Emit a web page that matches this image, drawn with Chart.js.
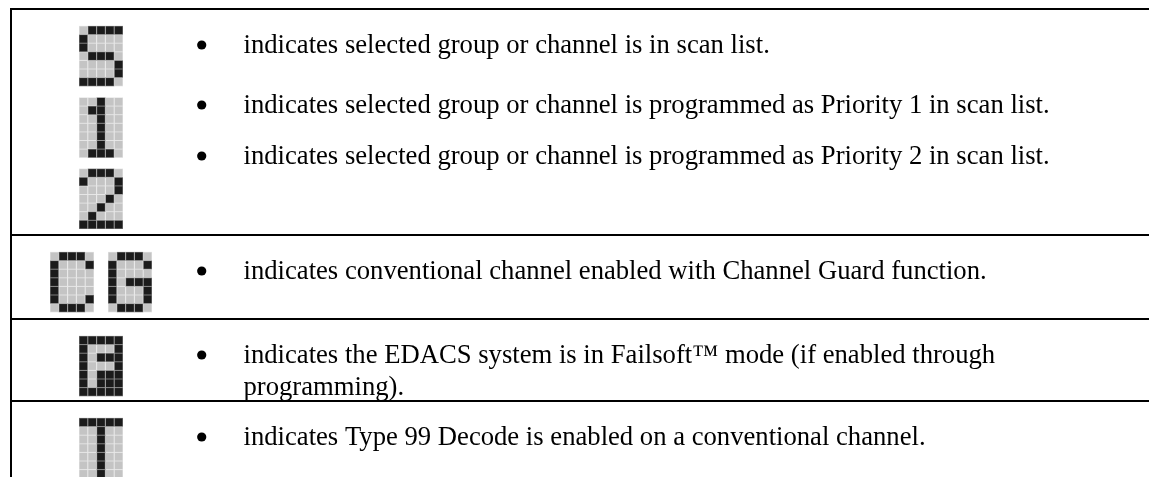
<!DOCTYPE html>
<html>
<head>
<meta charset="utf-8">
<style>
html, body { margin: 0; padding: 0; background: #fff; overflow: hidden; }
canvas { display: block; }
</style>
<script src="https://cdn.jsdelivr.net/npm/chart.js@4"></script>
</head>
<body>
<canvas id="legendChart" width="1149" height="477"></canvas>
<script>
// LCD icons, 5x7 cells
const glyphS = ['.####', '#....', '#....', '.###.', '....#', '....#', '####.'];
const glyphOne = ['..#..', '.##..', '..#..', '..#..', '..#..', '..#..', '.###.'];
const glyphTwo = ['.###.', '#...#', '....#', '...#.', '..#..', '.#...', '#####'];
const glyphC = ['.###.', '#...#', '#....', '#....', '#....', '#...#', '.###.'];
const glyphG = ['.###.', '#...#', '#....', '#.###', '#...#', '#...#', '.###.'];
const glyphFail = ['#####', '#...#', '#.###', '#...#', '#.###', '#.###', '#####'];
const glyphT = ['#####', '..#..', '..#..', '..#..', '..#..', '..#..', '..#..'];

const glyphs = [glyphS, glyphOne, glyphTwo, glyphC, glyphG, glyphFail, glyphT];
const glyphX = [79, 79, 79, 50, 108, 79, 79];
const glyphY = [26, 97.5, 168.7, 252, 252, 336, 418];

const ruleY = [9, 235, 319, 401];
const bulletY = [45, 105, 156, 271, 355, 437];
const lines = [
    'indicates selected group or channel is in scan list.',
    'indicates selected group or channel is programmed as Priority 1 in scan list.',
    'indicates selected group or channel is programmed as Priority 2 in scan list.',
    'indicates conventional channel enabled with Channel Guard function.',
    'indicates the EDACS system is in Failsoft\u2122 mode (if enabled through',
    'programming).',
    'indicates Type 99 Decode is enabled on a conventional channel.'
];
const lineY = [53, 113, 164, 279, 363, 395, 445];

const cellW = 8.8;
const cellH = 8.6;

function cells(on) {
    const pts = [];
    glyphs.forEach((g, i) => {
        g.forEach((row, r) => {
            [...row].forEach((c, k) => {
                if ((c === '#') === on) {
                    pts.push({ x: glyphX[i] + (k + 0.5) * cellW, y: glyphY[i] + (r + 0.5) * cellH });
                }
            });
        });
    });
    return pts;
}

function cellSet(data, color, size, order) {
    return {
        type: 'scatter', data, order,
        pointStyle: 'rect', pointRadius: size / Math.SQRT2, pointBorderWidth: 0,
        backgroundColor: color
    };
}

function rule(x0, y0, x1, y1) {
    return {
        type: 'line', data: [{ x: x0, y: y0 }, { x: x1, y: y1 }], order: 1,
        borderColor: '#000', borderWidth: 2, pointRadius: 0
    };
}

const textPlugin = {
    id: 'rowText',
    afterDatasetsDraw(chart) {
        const { ctx, scales } = chart;
        ctx.save();
        ctx.font = '26.66px "Liberation Serif"';
        ctx.fillStyle = '#000';
        ctx.textBaseline = 'alphabetic';
        lines.forEach((t, i) => ctx.fillText(t, scales.x.getPixelForValue(243.5), scales.y.getPixelForValue(lineY[i])));
        ctx.restore();
    }
};

new Chart(document.querySelector('#legendChart'), {
    type: 'scatter',
    data: {
        datasets: [
            ...ruleY.map(y => rule(11, y, 1149, y)),
            rule(11, 8, 11, 477),
            { type: 'scatter', data: bulletY.map(y => ({ x: 201.7, y })), order: 2, pointStyle: 'circle', pointRadius: 4.6, pointBorderWidth: 0, backgroundColor: '#000' },
            cellSet(cells(true), '#1b1b1b', 7.6, 3),
            cellSet(cells(true), '#7a7a7a', 8.8, 4),
            cellSet(cells(false), '#c4c4c4', 7.6, 5),
            cellSet(cells(false), '#e2e2e2', 8.8, 6)
        ]
    },
    options: {
        responsive: false,
        animation: false,
        layout: { padding: 0, autoPadding: false },
        plugins: { legend: { display: false }, tooltip: { enabled: false } },
        scales: {
            x: { type: 'linear', min: 0, max: 1149, display: false },
            y: { type: 'linear', min: 0, max: 477, reverse: true, display: false }
        }
    },
    plugins: [textPlugin]
});
</script>
</body>
</html>
